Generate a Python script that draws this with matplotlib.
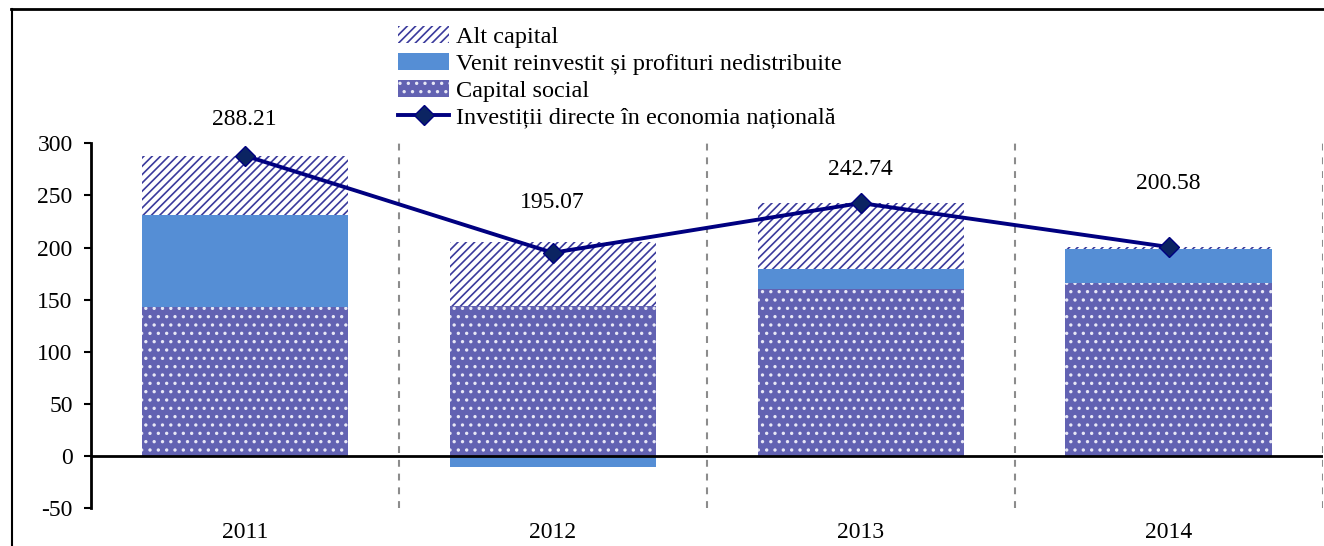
import numpy as np
import matplotlib.pyplot as plt
from matplotlib.lines import Line2D

plt.rcParams['font.family'] = ['Liberation Serif', 'DejaVu Serif']
plt.rcParams['hatch.linewidth'] = 1.2
plt.rcParams['axes.unicode_minus'] = False

years = ['2011', '2012', '2013', '2014']
capital_social = [142.6, 144.3, 160.2, 166.0]
venit_reinvestit = [88.8, -10.5, 19.2, 32.5]
alt_capital = [56.7, 61.5, 63.3, 1.9]
investitii = [288.21, 195.07, 242.74, 200.58]
label_offsets = [26, 36, 24, 46]  # points above the marker

fig = plt.figure(figsize=(13.24, 5.46), dpi=100)
ax = fig.add_axes([0.0685, 0.069, 0.9305, 0.6685])

x = np.arange(len(years))
w = 0.67
soc = np.array(capital_social)
ven = np.array(venit_reinvestit)
alt = np.array(alt_capital)

ven_bottom = np.where(ven >= 0, soc, 0)
alt_bottom = soc + np.clip(ven, 0, None)

b_soc = ax.bar(x, soc, w, color='#6262b2', edgecolor='#e8e8f6', hatch='..',
               linewidth=0, zorder=2, label='Capital social')
b_ven = ax.bar(x, ven, w, bottom=ven_bottom, color='#558ed5', linewidth=0,
               zorder=2, label='Venit reinvestit și profituri nedistribuite')
b_alt = ax.bar(x, alt, w, bottom=alt_bottom, color='white', edgecolor='#3a3a9c',
               hatch='////', linewidth=0, zorder=2, label='Alt capital')

ln, = ax.plot(x, investitii, color='#000080', lw=2.8, marker='D', markersize=10,
              markerfacecolor='#0b2462', markeredgecolor='#000080', zorder=4,
              label='Investiții directe în economia națională')

for xi, v, off in zip(x, investitii, label_offsets):
    ax.annotate(f'{v:.2f}', (xi, v), xytext=(0, off), textcoords='offset points',
                ha='center', va='center', fontsize=17)

for xb in np.arange(0.5, len(years), 1):
    ax.axvline(xb, color='#8c8c8c', lw=1.5, linestyle=(0, (3.3, 3.3)), zorder=1)

ax.axhline(0, color='black', lw=2, zorder=3)

ax.set_xlim(-0.5, len(years) - 0.5)
ax.set_ylim(-50, 300)
ax.set_yticks(np.arange(-50, 301, 50))
ax.set_xticks(x)
ax.set_xticklabels(years)
ax.tick_params(axis='y', length=5, width=1.5, pad=8, labelsize=17)
ax.tick_params(axis='x', length=0, pad=10, labelsize=17)
for s in ['top', 'right', 'bottom']:
    ax.spines[s].set_visible(False)
ax.spines['left'].set_linewidth(2)

handles = [b_alt, b_ven, b_soc, ln]
fig.legend(handles, [h.get_label() for h in handles], loc='upper left',
           bbox_to_anchor=(398 / 1324, 1 - 26 / 546), frameon=False, fontsize=17.5,
           handlelength=2.1, handletextpad=0.3, labelspacing=0.2, borderpad=0,
           borderaxespad=0)

# outer frame (top and left edges visible in the crop)
fig.add_artist(Line2D([11 / 1324, 1], [1 - 9 / 546, 1 - 9 / 546],
                      transform=fig.transFigure, color='black', lw=2))
fig.add_artist(Line2D([11.5 / 1324, 11.5 / 1324], [0, 1 - 9 / 546],
                      transform=fig.transFigure, color='black', lw=1.5))

fig.savefig('out.png', dpi=100)
